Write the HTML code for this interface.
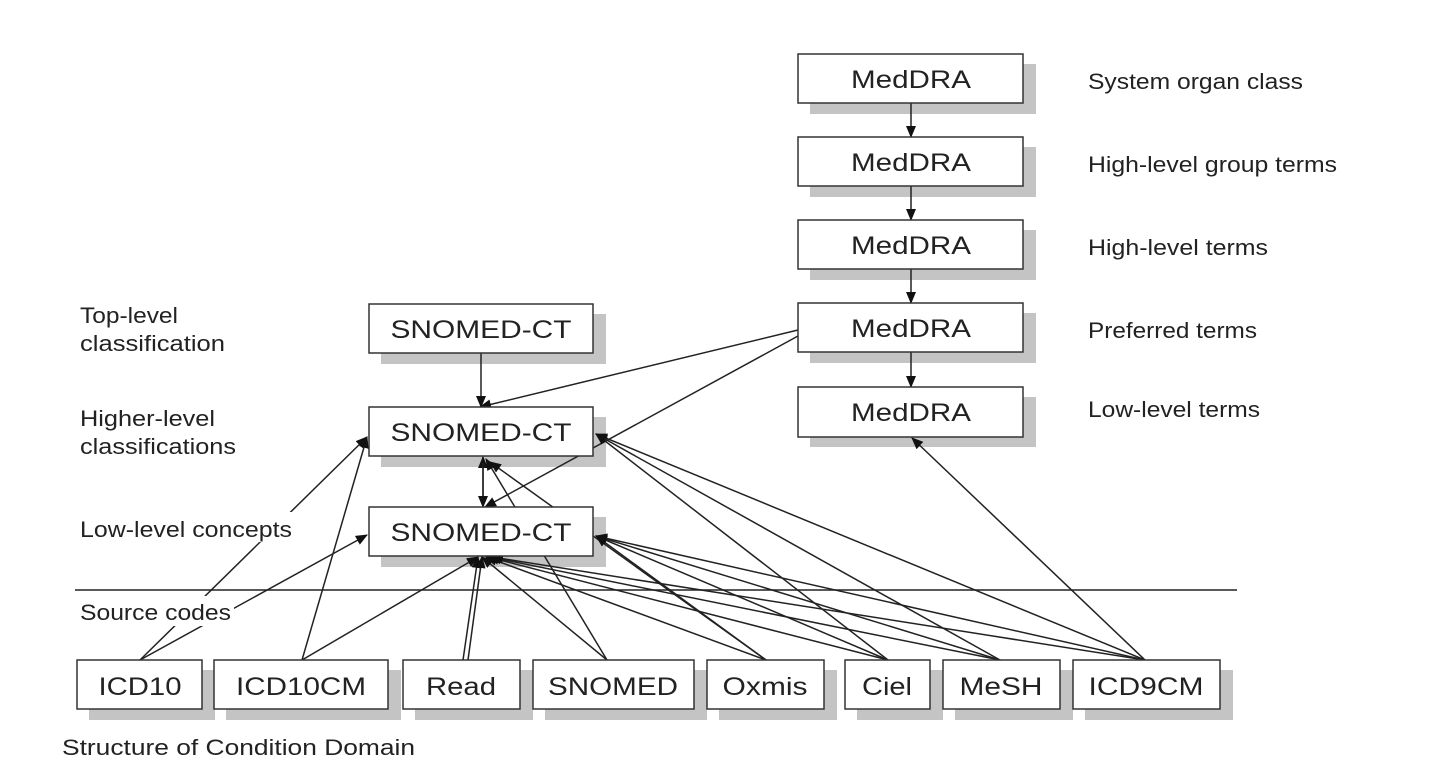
<!DOCTYPE html>
<html><head><meta charset="utf-8"><style>
html,body{margin:0;padding:0;background:#fff;}
body{width:1442px;height:768px;position:relative;overflow:hidden;font-family:"Liberation Sans",Arial,sans-serif;}
svg{position:absolute;left:0;top:0;}
</style></head><body>
<svg width="1442" height="768" viewBox="0 0 1442 768">
<defs>
<marker id="a" markerWidth="12" markerHeight="10" refX="11" refY="5" orient="auto" markerUnits="userSpaceOnUse">
<path d="M0,0 L12,5 L0,10 z" fill="#111"/></marker>
</defs>
<g fill="#c4c4c4">
<rect x="810" y="64" width="226" height="50"/><rect x="810" y="147" width="226" height="50"/>
<rect x="810" y="230" width="226" height="50"/><rect x="810" y="313" width="226" height="50"/>
<rect x="810" y="397" width="226" height="50"/>
<rect x="381" y="314" width="225" height="50"/><rect x="381" y="417" width="225" height="50"/>
<rect x="381" y="517" width="225" height="50"/>
<rect x="89" y="670" width="126" height="50"/><rect x="226" y="670" width="175" height="50"/>
<rect x="415" y="670" width="118" height="50"/><rect x="545" y="670" width="162" height="50"/>
<rect x="719" y="670" width="118" height="50"/><rect x="857" y="670" width="86" height="50"/>
<rect x="955" y="670" width="118" height="50"/><rect x="1085" y="670" width="148" height="50"/>
</g>
<line x1="75" y1="590" x2="1237" y2="590" stroke="#222" stroke-width="1.5"/>
<g stroke="#222" stroke-width="1.5" fill="none" marker-end="url(#a)">
<line x1="911" y1="103" x2="911" y2="137"/><line x1="911" y1="186" x2="911" y2="220"/>
<line x1="911" y1="269" x2="911" y2="303"/><line x1="911" y1="352" x2="911" y2="387"/>
<line x1="798" y1="330" x2="480" y2="407"/><line x1="798" y1="336" x2="485" y2="507"/>
<line x1="481" y1="353" x2="481" y2="407"/>
<line x1="483" y1="500" x2="483" y2="457"/><line x1="483" y1="463" x2="483" y2="507"/>
<line x1="140" y1="660" x2="367" y2="437"/><line x1="140" y1="660" x2="367" y2="535"/>
<line x1="302" y1="660" x2="367" y2="437"/><line x1="302" y1="660" x2="478" y2="557"/>
<line x1="463" y1="660" x2="478" y2="557"/><line x1="468" y1="660" x2="482" y2="557"/>
<line x1="607" y1="660" x2="486" y2="459"/><line x1="607" y1="660" x2="482" y2="557"/>
<line x1="766" y1="660" x2="490" y2="462"/><line x1="766" y1="660" x2="486" y2="557"/><line x1="766" y1="660" x2="596" y2="536"/>
<line x1="888" y1="660" x2="596" y2="434"/><line x1="888" y1="660" x2="596" y2="536"/><line x1="888" y1="660" x2="488" y2="557"/>
<line x1="1000" y1="660" x2="596" y2="434"/><line x1="1000" y1="660" x2="596" y2="536"/><line x1="1000" y1="660" x2="490" y2="557"/>
<line x1="1145" y1="660" x2="596" y2="434"/><line x1="1145" y1="660" x2="596" y2="536"/><line x1="1145" y1="660" x2="492" y2="557"/>
<line x1="1145" y1="660" x2="912" y2="438"/>
</g>
<g fill="#fff" stroke="#333" stroke-width="1.5">
<rect x="798" y="54" width="225" height="49"/><rect x="798" y="137" width="225" height="49"/>
<rect x="798" y="220" width="225" height="49"/><rect x="798" y="303" width="225" height="49"/>
<rect x="798" y="387" width="225" height="50"/>
<rect x="369" y="304" width="224" height="49"/><rect x="369" y="407" width="224" height="49"/>
<rect x="369" y="507" width="224" height="49"/>
<rect x="77" y="660" width="125" height="49"/><rect x="214" y="660" width="174" height="49"/>
<rect x="403" y="660" width="117" height="49"/><rect x="533" y="660" width="161" height="49"/>
<rect x="707" y="660" width="117" height="49"/><rect x="845" y="660" width="85" height="49"/>
<rect x="943" y="660" width="117" height="49"/><rect x="1073" y="660" width="147" height="49"/>
</g>
<g fill="#fff">
<rect x="78" y="512" width="218" height="30"/>
<rect x="78" y="596" width="156" height="30"/>
</g>
<g font-family="Liberation Sans, Arial, sans-serif" font-size="25" fill="#222" text-anchor="middle" lengthAdjust="spacingAndGlyphs">
<text x="911" y="88" textLength="120" lengthAdjust="spacingAndGlyphs">MedDRA</text>
<text x="911" y="171" textLength="120" lengthAdjust="spacingAndGlyphs">MedDRA</text>
<text x="911" y="254" textLength="120" lengthAdjust="spacingAndGlyphs">MedDRA</text>
<text x="911" y="337" textLength="120" lengthAdjust="spacingAndGlyphs">MedDRA</text>
<text x="911" y="421" textLength="120" lengthAdjust="spacingAndGlyphs">MedDRA</text>
<text x="481" y="338" textLength="181" lengthAdjust="spacingAndGlyphs">SNOMED-CT</text>
<text x="481" y="441" textLength="181" lengthAdjust="spacingAndGlyphs">SNOMED-CT</text>
<text x="481" y="541" textLength="181" lengthAdjust="spacingAndGlyphs">SNOMED-CT</text>
<text x="140" y="695" textLength="83" lengthAdjust="spacingAndGlyphs">ICD10</text>
<text x="301" y="695" textLength="130" lengthAdjust="spacingAndGlyphs">ICD10CM</text>
<text x="461" y="695" textLength="70" lengthAdjust="spacingAndGlyphs">Read</text>
<text x="613" y="695" textLength="130" lengthAdjust="spacingAndGlyphs">SNOMED</text>
<text x="765" y="695" textLength="85" lengthAdjust="spacingAndGlyphs">Oxmis</text>
<text x="887" y="695" textLength="50" lengthAdjust="spacingAndGlyphs">Ciel</text>
<text x="1001" y="695" textLength="83" lengthAdjust="spacingAndGlyphs">MeSH</text>
<text x="1146" y="695" textLength="115" lengthAdjust="spacingAndGlyphs">ICD9CM</text>
</g>
<g font-family="Liberation Sans, Arial, sans-serif" font-size="22" fill="#222">
<text x="1088" y="89" textLength="215" lengthAdjust="spacingAndGlyphs">System organ class</text>
<text x="1088" y="172" textLength="249" lengthAdjust="spacingAndGlyphs">High-level group terms</text>
<text x="1088" y="255" textLength="180" lengthAdjust="spacingAndGlyphs">High-level terms</text>
<text x="1088" y="338" textLength="169" lengthAdjust="spacingAndGlyphs">Preferred terms</text>
<text x="1088" y="417" textLength="172" lengthAdjust="spacingAndGlyphs">Low-level terms</text>
<text x="80" y="323" textLength="98" lengthAdjust="spacingAndGlyphs">Top-level</text>
<text x="80" y="351" textLength="145" lengthAdjust="spacingAndGlyphs">classification</text>
<text x="80" y="426" textLength="135" lengthAdjust="spacingAndGlyphs">Higher-level</text>
<text x="80" y="454" textLength="156" lengthAdjust="spacingAndGlyphs">classifications</text>
<text x="80" y="537" textLength="212" lengthAdjust="spacingAndGlyphs">Low-level concepts</text>
<text x="80" y="620" textLength="151" lengthAdjust="spacingAndGlyphs">Source codes</text>
<text x="62" y="755" textLength="353" lengthAdjust="spacingAndGlyphs">Structure of Condition Domain</text>
</g>
</svg>
</body></html>
